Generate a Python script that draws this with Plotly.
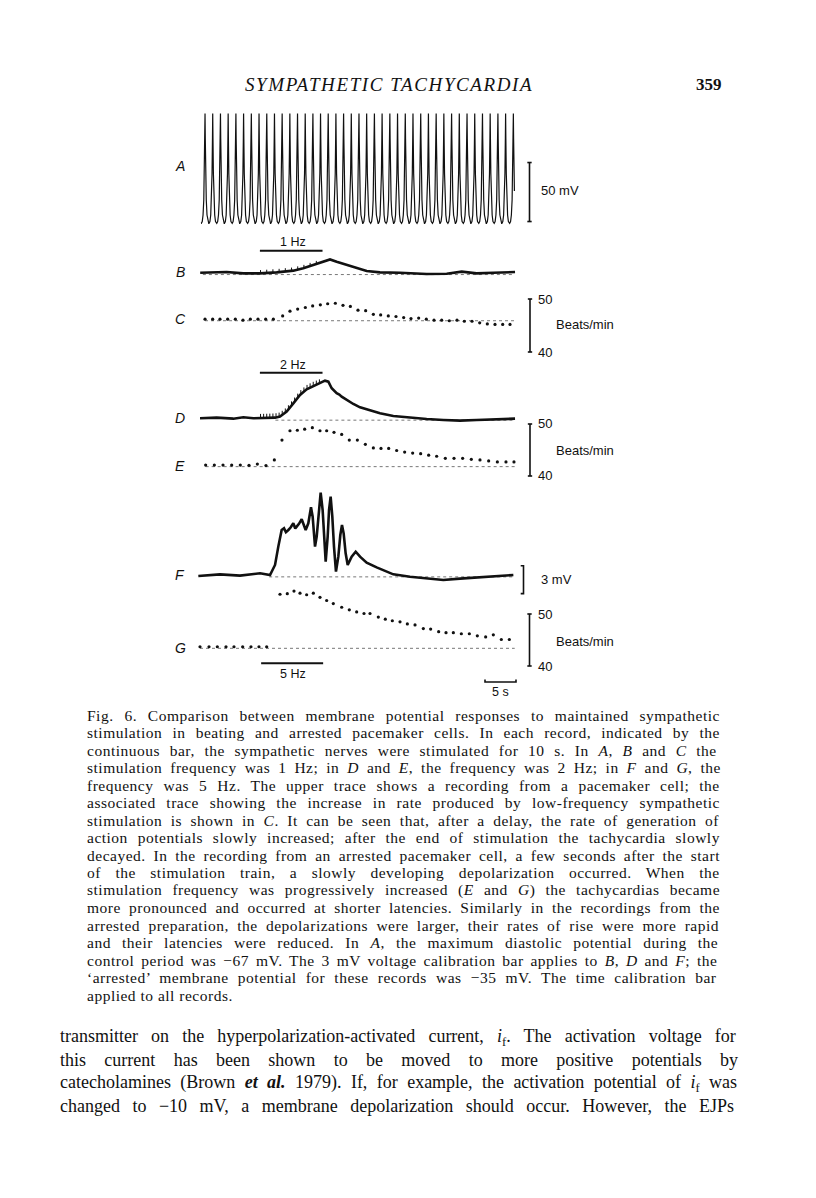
import re
import numpy as np
import plotly.graph_objects as go

# page size; the html body adds an 8 px margin, so the figure is drawn 8 px smaller
PAGE_W, PAGE_H = 816, 1198
OFF = 8
W, H = PAGE_W - OFF, PAGE_H - OFF

# ---------------- data ----------------
# stimulus trains (s)
stim_1hz = [9.5, 19.6]
stim_2hz = [9.5, 19.6]
stim_5hz = [9.7, 19.7]

# A: times of the action-potential peaks (s) and one action potential (offset s, mV)
A_peaks = [0.65, 1.89, 3.14, 4.38, 5.63, 6.87, 8.12, 9.36, 10.61, 11.85, 13.09,
           14.33, 15.57, 16.81, 18.05, 19.28, 20.52, 21.76, 23.00, 24.24, 25.48,
           26.72, 27.97, 29.21, 30.46, 31.70, 32.95, 34.19, 35.44, 36.68, 37.93,
           39.17, 40.42, 41.66, 42.91, 44.15, 45.40, 46.64, 47.89, 49.13, 50.38]
AP_dt = [-0.6, -0.45, -0.32, -0.2, -0.11, -0.04, 0, 0.04, 0.11, 0.2, 0.32, 0.45, 0.6]
AP_mv = [-67, -65.5, -60, -47, -25, 5, 26, 5, -25, -47, -60, -65.5, -67]
A_start, A_end = 0.0, 50.55

# B: arrested cell, 1 Hz (s, mV from -35 mV)
B_t = [-0.13, 4.14, 6.83, 9.52, 12.2, 14.89, 16.5, 18.12, 19.73, 20.81, 21.88,
       23.49, 25.11, 26.72, 28.87, 32.1, 36.4, 39.63, 42.05, 44.46, 47.15, 50.65]
B_d = [0, 0.07, -0.07, -0.07, 0.04, 0.22, 0.47, 0.82, 1.15, 1.43, 1.18,
       0.82, 0.47, 0.18, 0.04, 0, -0.14, -0.11, 0.11, -0.07, 0, 0.07]
B_art = [9.6, 10.6, 11.6, 12.6, 13.6, 14.6, 15.6, 16.6, 17.6, 18.6]

# C: beating cell rate, 1 Hz (beats/min)
C_t = [0.65, 1.88, 3.06, 4.30, 5.54, 6.77, 7.96, 9.19, 10.43, 11.67, 13.17, 14.35,
       15.59, 16.83, 18.01, 19.25, 20.43, 21.67, 22.90, 24.09, 25.32, 26.56, 27.80,
       28.98, 30.21, 31.45, 32.69, 33.87, 35.11, 36.34, 37.58, 38.82, 40.05, 41.29,
       42.47, 43.71, 44.95, 46.18, 47.42, 48.66, 49.84]
C_bpm = [46.2, 46.2, 46.2, 46.2, 46.2, 46.0, 46.2, 46.2, 46.2, 46.2, 46.8, 47.7,
         48.1, 48.4, 48.7, 48.9, 49.1, 49.2, 48.8, 48.6, 47.9, 47.8, 47.1, 47.0,
         46.8, 46.7, 46.5, 46.3, 46.4, 46.2, 46.0, 46.0, 45.9, 46.0, 45.8, 45.8,
         45.5, 45.3, 45.2, 45.2, 45.2]
C_base = 45.9

# D: arrested cell, 2 Hz (s, mV from -35 mV)
D_t = [-0.16, 2.53, 5.22, 6.83, 8.44, 10.59, 11.94, 12.74, 13.82, 14.89, 15.97,
       17.04, 18.12, 19.19, 20.0, 20.54, 21.08, 21.88, 22.31, 22.69, 23.49, 24.57,
       25.65, 27.26, 28.87, 31.02, 33.71, 36.4, 39.09, 41.77, 44.46, 47.15, 50.65]
D_d = [0, 0.07, -0.04, 0.11, 0, 0.04, 0.07, 0.18, 0.72, 1.61, 2.51,
       3.12, 3.48, 3.76, 4.05, 3.94, 3.23, 2.69, 2.55, 2.33, 1.97, 1.54,
       1.18, 0.82, 0.54, 0.25, 0.07, -0.07, -0.18, -0.25, -0.18, -0.11, -0.04]
D_art = [9.6, 10.1, 10.6, 11.1, 11.6, 12.1, 12.6, 13.1, 13.6, 14.1,
         14.6, 15.1, 15.6, 16.1, 16.6, 17.1, 17.6, 18.1, 18.6, 19.1]

# E: beating cell rate, 2 Hz (beats/min)
E_t = [0.75, 2.15, 3.55, 4.95, 6.34, 7.74, 9.09, 10.48, 11.83, 13.06, 14.35, 15.54,
       16.72, 17.96, 19.19, 20.27, 21.45, 22.69, 23.92, 25.22, 26.51, 27.80, 29.03,
       30.27, 31.56, 32.85, 34.14, 35.43, 36.72, 38.01, 39.41, 40.81, 42.20, 43.60,
       45.00, 46.40, 47.80, 49.19, 50.48]
E_bpm = [42.1, 42.1, 42.1, 42.1, 42.1, 42.05, 42.3, 42.0, 43.1, 46.9, 48.7, 48.8,
         49.0, 49.3, 48.7, 48.7, 48.4, 48.0, 46.9, 46.9, 46.1, 45.4, 45.3, 45.3,
         44.9, 44.6, 44.4, 44.3, 44.0, 43.8, 43.4, 43.4, 43.4, 43.2, 43.1, 42.9,
         42.7, 42.7, 42.7]
E_base = 41.8

# F: arrested cell, 5 Hz (s, mV from -35 mV)
F_t = [-0.43, 3.06, 6.29, 9.52, 11.13, 11.94, 12.47, 13.01, 13.39, 13.7, 14.09,
       14.45, 14.89, 15.2, 15.43, 15.8, 16.24, 16.6, 16.88, 17.31, 17.53, 17.74,
       18.01, 18.39, 18.66, 18.98, 19.30, 19.62, 19.89, 20.11, 20.43, 20.65, 20.91,
       21.18, 21.45, 21.77, 22.15, 22.47, 22.74, 23.01, 23.33, 23.66, 24.30, 24.95,
       25.65, 26.72, 28.33, 31.02, 33.71, 36.4, 39.09, 41.77, 44.46, 47.15, 50.38]
F_d = [-0.11, 0.07, -0.07, 0.18, 0, 1.08, 3.05, 4.84, 5.02, 4.6, 4.84,
       5.1, 5.56, 5.0, 5.2, 5.5, 5.99, 5.4, 4.84, 5.56, 6.63, 7.28,
       6.27, 3.05, 4.12, 6.99, 8.85, 6.99, 3.76, 1.43, 4.12, 6.99, 8.42,
       6.27, 3.05, 0.36, 1.97, 4.30, 5.38, 4.48, 2.33, 1.08, 1.97, 2.51,
       1.97, 1.33, 0.82, 0.07, -0.18, -0.39, -0.54, -0.39, -0.25, -0.11, 0]
F_base_from = 11.0

# G: beating cell rate, 5 Hz (beats/min)
G_t = [-0.16, 1.29, 2.63, 4.03, 5.32, 6.72, 8.06, 9.35, 10.59, 12.74, 13.92, 15.00,
       15.97, 17.04, 18.12, 19.19, 20.27, 21.34, 22.69, 23.92, 25.11, 26.29, 27.26,
       28.60, 29.73, 30.86, 32.10, 33.28, 34.52, 35.86, 37.04, 38.33, 39.52, 40.70,
       41.99, 43.28, 44.57, 45.91, 47.15, 48.44, 49.73]
G_bpm = [43.7, 43.7, 43.7, 43.7, 43.7, 43.7, 43.7, 43.7, 43.7, 53.8, 53.9, 54.4,
         54.0, 53.7, 54.0, 53.2, 52.6, 52.0, 51.3, 50.8, 50.4, 50.1, 50.1, 49.4,
         49.0, 48.7, 48.5, 48.1, 47.9, 47.2, 47.1, 46.6, 46.4, 46.4, 46.2, 46.2,
         45.8, 45.6, 46.0, 45.1, 45.1]
G_base = 43.4

rest_mv = -35          # 'arrested' membrane potential
cal_mv_A = 50
cal_mv_BDF = 3
cal_rate = [40, 50]
cal_time = 5

# ---------------- page layout helpers ----------------
t0_px, px_per_s = 201, 6.2


def paper_y(py):
    return 1 - (py - OFF) / H


def paper_x(px):
    return (px - OFF) / W


def tx(px):
    return (px - t0_px) / px_per_s


# each record gets its own y axis: (value, page y of that value, px per unit)
panels = {
    'A': (-67, 223.3, 1.18),
    'B': (rest_mv, 272.7, 9.3),
    'C': (40, 352, 5.3),
    'D': (rest_mv, 418.3, 9.3),
    'E': (40, 476, 5.2),
    'F': (rest_mv, 575, 9.3),
    'G': (40, 666, 5.2),
}
yref = {k: ('y' if i == 0 else f'y{i + 1}') for i, k in enumerate(panels)}

fig = go.Figure()
black = '#111111'


def add(tr, panel):
    tr.update(yaxis=yref[panel], xaxis='x', showlegend=False, hoverinfo='skip')
    fig.add_trace(tr)


def baseline(panel, val, t_from, t_to):
    add(go.Scatter(x=[t_from, t_to], y=[val, val], mode='lines',
                   line=dict(color='#555555', width=0.8, dash='dot')), panel)


# A
ta, va = [], []
for tp in A_peaks:
    ta += [tp + d for d in AP_dt]
    va += AP_mv
ta, va = np.array(ta), np.array(va)
keep = (ta > A_start) & (ta < A_end)
tA = np.concatenate([[A_start], ta[keep], [A_end]])
vA = np.concatenate([[np.interp(A_start, ta, va)], va[keep], [np.interp(A_end, ta, va)]])
add(go.Scatter(x=tA, y=vA, mode='lines', line=dict(color=black, width=1.2)), 'A')


def arrested(panel, t, d, arts, art_h, t_base_from):
    v = rest_mv + np.array(d)
    baseline(panel, rest_mv - 0.2, t_base_from, 50.6)
    add(go.Scatter(x=t, y=v, mode='lines', line=dict(color=black, width=2.6)), panel)
    if arts:
        xs, ys = [], []
        for a in arts:
            b = np.interp(a, t, v)
            xs += [a, a, None]
            ys += [b, b + art_h, None]
        add(go.Scatter(x=xs, y=ys, mode='lines', line=dict(color=black, width=1)), panel)


def rate(panel, t, bpm, base):
    baseline(panel, base, t[0], 50.6)
    add(go.Scatter(x=t, y=bpm, mode='markers',
                   marker=dict(color=black, size=3.2)), panel)


arrested('B', B_t, B_d, B_art, 0.35, 0.3)
rate('C', C_t, C_bpm, C_base)
arrested('D', D_t, D_d, D_art, 0.45, 12.0)
rate('E', E_t, E_bpm, E_base)
arrested('F', F_t, F_d, [], 0, F_base_from)
rate('G', G_t, G_bpm, G_base)


# calibration bars
def ibar(panel, t, lo, hi, cap=0.35, left_only=False):
    if left_only:
        xs, ys = [t - cap, t, t, t - cap], [hi, hi, lo, lo]
    else:
        xs = [t - cap, t + cap, None, t, t, None, t - cap, t + cap]
        ys = [hi, hi, None, hi, lo, None, lo, lo]
    add(go.Scatter(x=xs, y=ys, mode='lines', line=dict(color=black, width=1.6)), panel)


ibar('A', tx(529.5), -65.5, -65.5 + cal_mv_A)
ibar('C', tx(530), cal_rate[0], cal_rate[1])
ibar('E', tx(530), cal_rate[0], cal_rate[1])
ibar('F', tx(523.5), rest_mv - 2, rest_mv - 2 + cal_mv_BDF, cap=0.45, left_only=True)
ibar('G', tx(529.5), cal_rate[0], cal_rate[1])

shapes = []
for (s0, s1), py in [(stim_1hz, 250.7), (stim_2hz, 372.7), (stim_5hz, 663.3)]:
    shapes.append(dict(type='line', xref='x', yref='paper', x0=s0, x1=s1,
                       y0=paper_y(py), y1=paper_y(py), line=dict(color=black, width=2)))
# 5 s time bar
tb1 = tx(516)
tb0 = tb1 - cal_time
yb, yt = paper_y(682), paper_y(679.5)
shapes.append(dict(type='path', xref='x', yref='paper',
                   path=f'M {tb0},{yt} L {tb0},{yb} L {tb1},{yb} L {tb1},{yt}',
                   line=dict(color=black, width=1.6)))

ann = []
sans = 'Liberation Sans, Arial, sans-serif'
serif = 'Liberation Serif, Times New Roman, serif'


def txt(text, px, py, size=13, xanchor='left', family=sans):
    ann.append(dict(text=text, x=paper_x(px), y=paper_y(py), xref='paper', yref='paper',
                    xanchor=xanchor, yanchor='middle', showarrow=False, borderpad=0,
                    font=dict(family=family, size=size, color=black)))


for k, py in zip('ABCDEFG', [166, 271.7, 319.3, 418.3, 466, 575, 647.7]):
    txt(f'<i>{k}</i>', 180, py, size=14, xanchor='center')

txt('50 mV', 540, 190)
txt('3 mV', 540, 579)
for y50, ymid, y40 in [(299, 325, 352), (423, 450, 476), (614, 641, 666)]:
    txt('50', 537, y50)
    txt('40', 537, y40)
    txt('Beats/min', 555, ymid)
txt('1 Hz', 292.5, 242.5, size=12.5, xanchor='center')
txt('2 Hz', 292.5, 365, size=12.5, xanchor='center')
txt('5 Hz', 293, 674, size=12.5, xanchor='center')
txt('5 s', 500, 692, size=12.5, xanchor='center')

# running head
txt('<i><span style="letter-spacing:1.6px">SYMPATHETIC TACHYCARDIA</span></i>',
    389, 85, size=19, xanchor='center', family=serif)
txt('<b>359</b>', 709, 85, size=17, xanchor='center', family=serif)

# ---------------- caption and body text (justified) ----------------
CW = {' ': 250, '!': 333, '(': 333, ')': 333, ',': 250, '-': 333, '.': 250, ':': 278,
      ';': 278, '−': 564, '‘': 333, '’': 333, "'": 333}
CW.update({d: 500 for d in '0123456789'})
CW.update(dict(zip('ABCDEFGHIJKLMNOPQRSTUVWXYZ',
                   [722, 667, 667, 722, 611, 556, 722, 722, 333, 389, 722, 611, 889,
                    722, 722, 556, 722, 667, 556, 611, 722, 722, 944, 722, 722, 611])))
CW.update(dict(zip('abcdefghijklmnopqrstuvwxyz',
                   [444, 500, 444, 500, 444, 333, 500, 500, 278, 278, 500, 278, 778,
                    500, 500, 500, 500, 333, 389, 278, 500, 500, 722, 500, 500, 444])))


def justify(html, size, width, ls=0.0, last=False):
    plain = re.sub(r'<[^>]+>', '', html)
    nat = sum(CW.get(c, 500) for c in plain) * size / 1000 + ls * len(plain)
    ws = 0 if last else (width - nat) / max(plain.count(' '), 1)
    return f'<span style="letter-spacing:{ls}px;word-spacing:{ws:.2f}px">{html}</span>'


caption = [
    'Fig. 6. Comparison between membrane potential responses to maintained sympathetic',
    'stimulation in beating and arrested pacemaker cells. In each record, indicated by the',
    'continuous bar, the sympathetic nerves were stimulated for 10 s. In <i>A</i>, <i>B</i> and <i>C</i> the',
    'stimulation frequency was 1 Hz; in <i>D</i> and <i>E</i>, the frequency was 2 Hz; in <i>F</i> and <i>G</i>, the',
    'frequency was 5 Hz. The upper trace shows a recording from a pacemaker cell; the',
    'associated trace showing the increase in rate produced by low-frequency sympathetic',
    'stimulation is shown in <i>C</i>. It can be seen that, after a delay, the rate of generation of',
    'action potentials slowly increased; after the end of stimulation the tachycardia slowly',
    'decayed. In the recording from an arrested pacemaker cell, a few seconds after the start',
    'of the stimulation train, a slowly developing depolarization occurred. When the',
    'stimulation frequency was progressively increased (<i>E</i> and <i>G</i>) the tachycardias became',
    'more pronounced and occurred at shorter latencies. Similarly in the recordings from the',
    'arrested preparation, the depolarizations were larger, their rates of rise were more rapid',
    'and their latencies were reduced. In <i>A</i>, the maximum diastolic potential during the',
    'control period was −67 mV. The 3 mV voltage calibration bar applies to <i>B</i>, <i>D</i> and <i>F</i>; the',
    '‘arrested’ membrane potential for these records was −35 mV. The time calibration bar',
    'applied to all records.',
]
body = [
    'transmitter on the hyperpolarization-activated current, <i>i</i><sub>f</sub>. The activation voltage for',
    'this current has been shown to be moved to more positive potentials by',
    'catecholamines (Brown <b><i>et al.</i></b> 1979). If, for example, the activation potential of <i>i</i><sub>f</sub> was',
    'changed to −10 mV, a membrane depolarization should occur. However, the EJPs',
]

cap_left, cap_right = 86, 719
for i, line in enumerate(caption):
    txt(justify(line, 15.5, cap_right - cap_left, ls=0.5, last=(i == len(caption) - 1)),
        cap_left, 715 + 17.5 * i, size=15.5, family=serif)
body_left, body_right = 59, 737
for i, line in enumerate(body):
    txt(justify(line, 18, body_right - body_left), body_left, 1037 + 23 * i, size=18, family=serif)

# ---------------- axes ----------------
layout_axes = {}
for i, (k, (v0, y0, kpx)) in enumerate(panels.items()):
    name = 'yaxis' if i == 0 else f'yaxis{i + 1}'
    ax = dict(range=[v0 - (PAGE_H - y0) / kpx, v0 + (y0 - OFF) / kpx], domain=[0, 1],
              visible=False, fixedrange=True)
    if i:
        ax['overlaying'] = 'y'
    layout_axes[name] = ax

fig.update_layout(
    width=W, height=H, margin=dict(l=0, r=0, t=0, b=0),
    paper_bgcolor='white', plot_bgcolor='white',
    xaxis=dict(range=[tx(OFF), tx(PAGE_W)], domain=[0, 1], visible=False, fixedrange=True),
    shapes=shapes, annotations=ann, showlegend=False,
    **layout_axes,
)

fig.write_html('out.html')
